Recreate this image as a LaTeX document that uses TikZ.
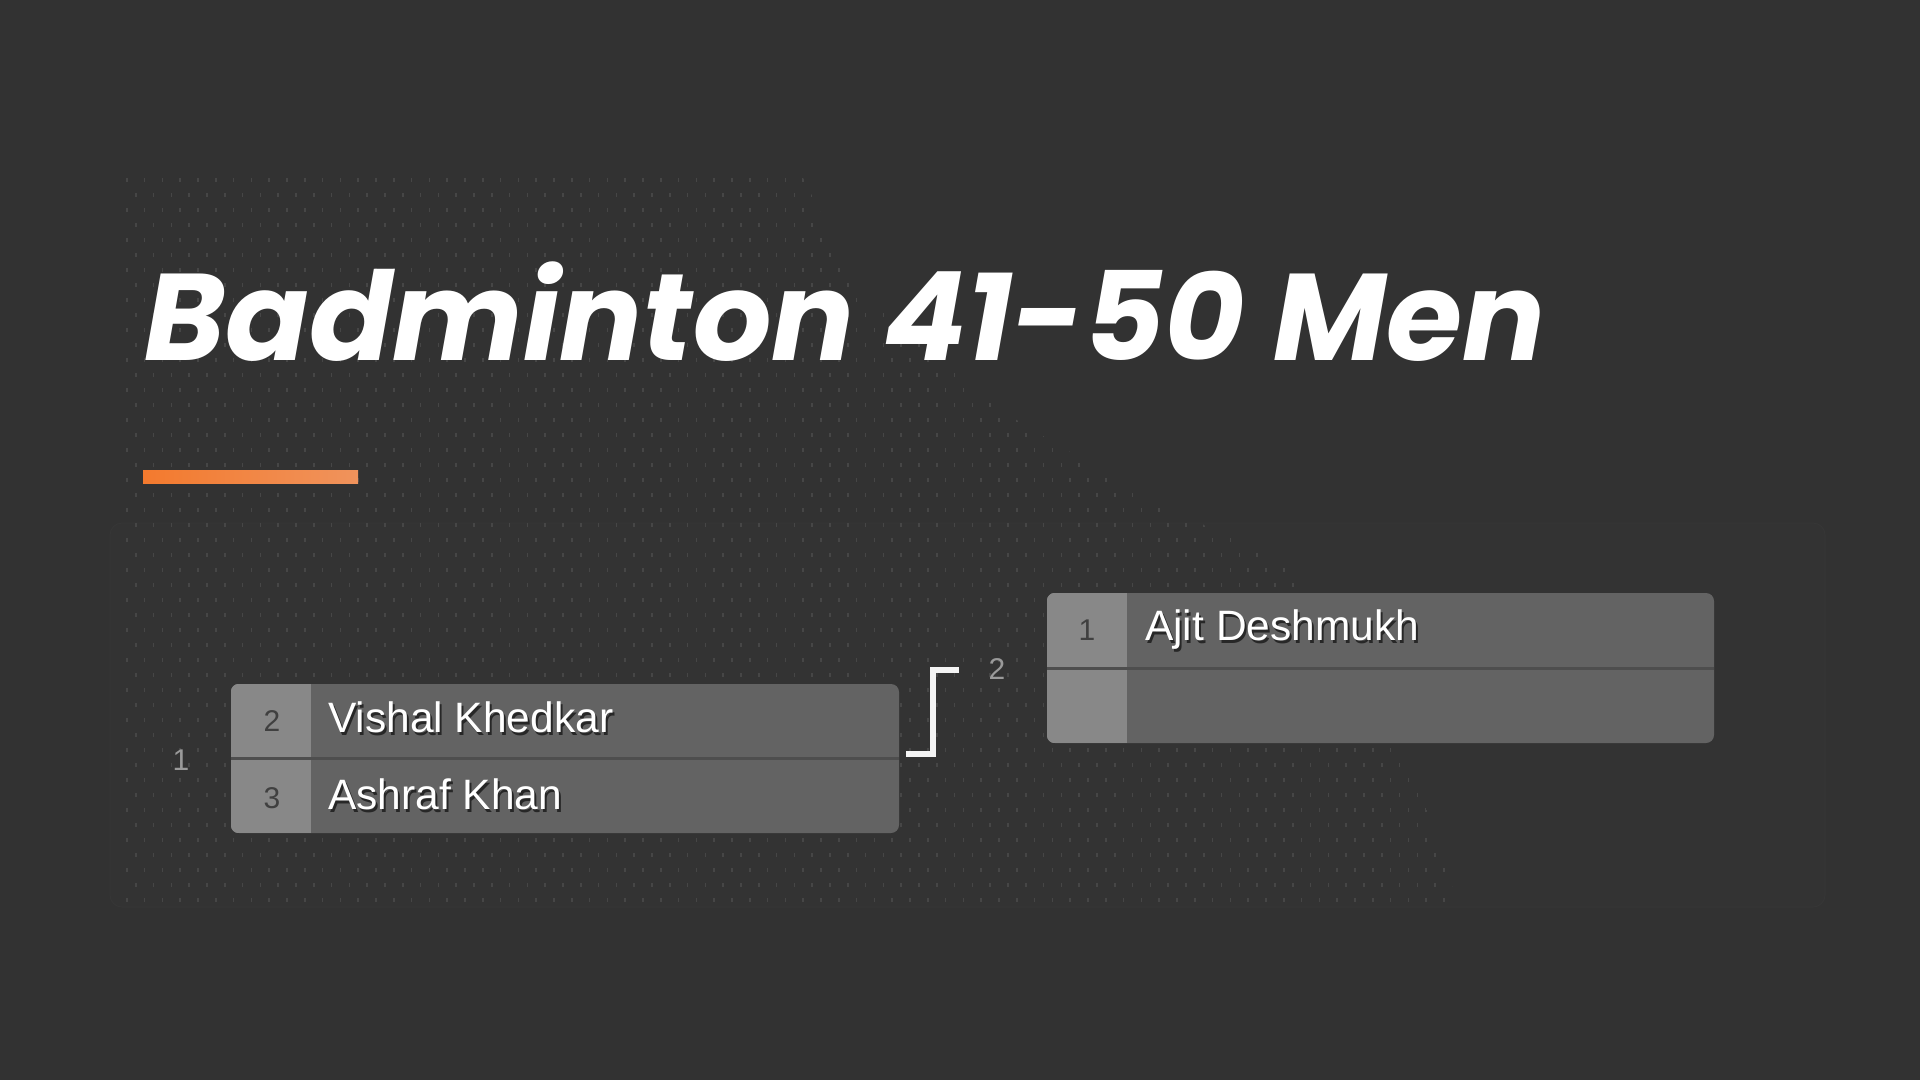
\documentclass[tikz,border=0pt]{standalone}
\usepackage{fontspec}
\setmainfont{Liberation Sans}
\newfontfamily\titlefont{Poppins}
\usetikzlibrary{calc}
\definecolor{bg}{HTML}{323232}
\definecolor{contc}{HTML}{333333}
\definecolor{contl}{HTML}{363636}
\definecolor{dotc}{HTML}{464646}
\definecolor{bodyc}{HTML}{636363}
\definecolor{seedc}{HTML}{888888}
\definecolor{divc}{HTML}{4e4e4e}
\definecolor{seedtxt}{HTML}{404040}
\definecolor{roundtxt}{HTML}{9a9a9a}
\definecolor{connc}{HTML}{F4F4F4}
\definecolor{orA}{HTML}{F37A2E}
\definecolor{orB}{HTML}{F0935C}
\tikzset{
  matchbox/.style={draw=none, fill=bodyc, rounded corners=8pt, inner sep=0pt},
  divline/.style={draw=divc, line width=3pt},
  seednum/.style={anchor=base, inner sep=0pt, text=seedtxt, font=\fontsize{30}{30}\selectfont},
  roundnum/.style={anchor=base, inner sep=0pt, text=roundtxt, font=\fontsize{30}{30}\selectfont},
  pname/.style={anchor=base west, inner sep=0pt, text=white, font=\fontsize{42.5}{42.5}\selectfont},
  pshadow/.style={anchor=base west, inner sep=0pt, text=black, opacity=0.6, font=\fontsize{42.5}{42.5}\selectfont},
  conn/.style={draw=connc, line width=6pt},
}
\begin{document}
\begin{tikzpicture}[x=1pt,y=-1pt]
\useasboundingbox (0,0) rectangle (1920,1080);
\fill[bg] (0,0) rectangle (1920,1080);
% faint container
\draw[draw=contl, fill=contc, line width=1pt, rounded corners=12pt] (110,523) rectangle (1825,907);
% dot pattern
\begin{scope}
\clip (122,172) -- (800,172) -- (860,290) -- (1000,410) -- (1150,500) -- (1280,560) -- (1390,700) -- (1460,910) -- (122,910) -- cycle;
\foreach \r in {0,...,48} {
  \pgfmathsetmacro\yy{178+15*\r}
  \pgfmathsetmacro\off{mod(\r,2)*9}
  \foreach \c in {0,...,75} {
    \fill[dotc] (126+\off+17.8*\c, \yy) rectangle +(1.6,3.6);
  }
}
\end{scope}
% title
\node[anchor=base west, inner sep=0pt, text=white] (title) at (144,360)
  {\resizebox{1401pt}{!}{\titlefont\bfseries\itshape Badminton 41-50 Men}};
% orange bar
\shade[left color=orA, right color=orB] (143,470) rectangle (358,483);
% match 1
\node[matchbox, minimum width=668pt, minimum height=149pt] (m1) at (565,758.5) {};
\begin{scope}
\clip[rounded corners=8pt] (m1.south west) rectangle (m1.north east);
\fill[seedc] (m1.south west) rectangle ($(m1.north west)+(80,0)$);
\end{scope}
\draw[divline] (m1.west) -- (m1.east);
% match 2
\node[matchbox, minimum width=667pt, minimum height=150pt] (m2) at (1380.5,668) {};
\begin{scope}
\clip[rounded corners=8pt] (m2.south west) rectangle (m2.north east);
\fill[seedc] (m2.south west) rectangle ($(m2.north west)+(80,0)$);
\end{scope}
\draw[divline] (m2.west) -- (m2.east);
% seeds
\node[seednum] (s2) at (272,731) {2};
\node[seednum] (s3) at (272,808) {3};
\node[seednum] (s1) at (1087,640) {1};
% names
\node[pshadow] at (330,735) {Vishal Khedkar};
\node[pname] (n1) at (328,732) {Vishal Khedkar};
\node[pshadow] at (330,812) {Ashraf Khan};
\node[pname] (n2) at (328,809) {Ashraf Khan};
\node[pshadow] at (1147,643) {Ajit Deshmukh};
\node[pname] (n3) at (1145,640) {Ajit Deshmukh};
% round labels
\node[roundnum] (r1) at (181,770) {1};
\node[roundnum] (r2) at (997,679) {2};
% connector
\coordinate (cend) at (959,670);
\draw[conn] ($(m1.east)+(7,-4.5)$) -- (933,754) -- (933,670) -- (cend);
\end{tikzpicture}
\end{document}
